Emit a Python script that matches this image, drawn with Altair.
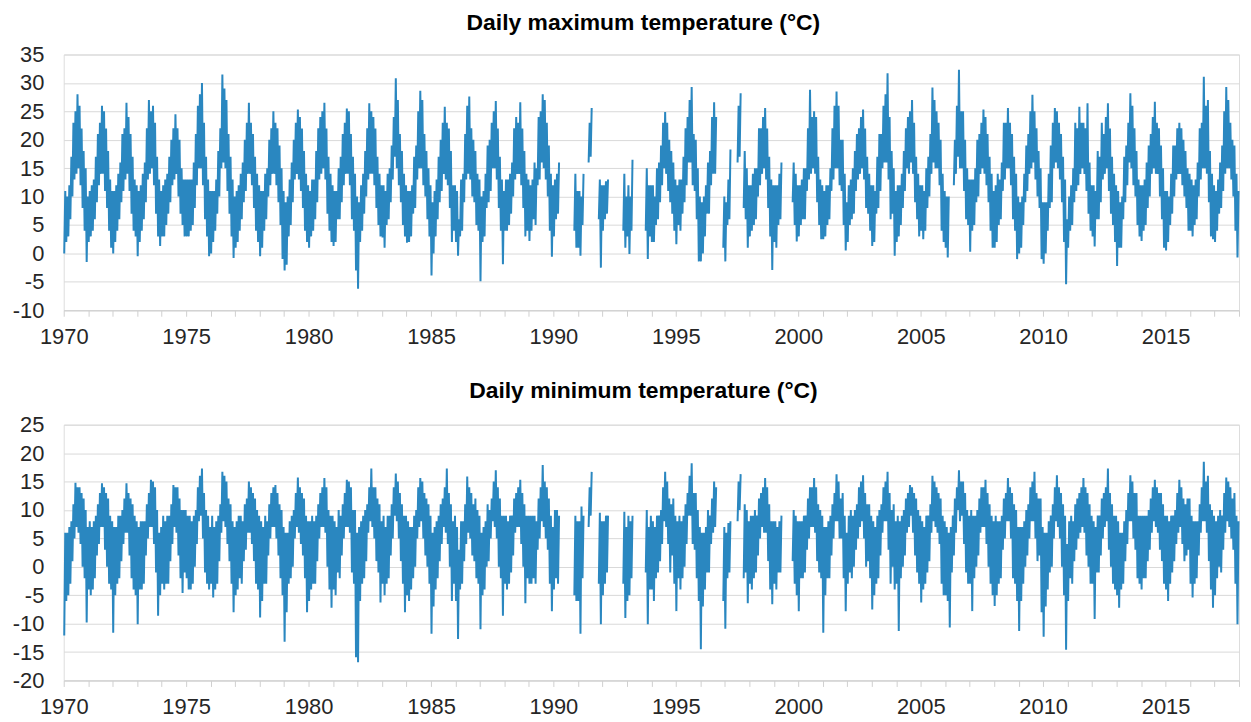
import altair as alt
import pandas as pd

N = None
FIRST_YEAR = 1970

# Monthly envelope (lowest / highest daily value of each month)
# Daily maximum temperature
TMAX_LO = [
    0, 2, 3, 6, 10, 13, 14, 15, 12, 8, 4, -1.5,      # 1970
    2, 3, 4, 6, 9, 12, 14, 14, 11, 8, 4, 1,          # 1971
    0, 2, 4, 6, 9, 11, 13, 14, 11, 7, 4, 3,          # 1972
    -0.5, 2, 4, 6, 9, 13, 14, 15, 12, 7, 3, 1.3,     # 1973
    3, 3, 5, 7, 9, 12, 13, 14, 10, 7, 5, 3,          # 1974
    3, 3, 4, 5, 8, 12, 15, 15, 12, 6, 3, -0.5,       # 1975
    0, 2, 4, 7, 10, 15, 16, 15, 11, 7, 3, -0.8,      # 1976
    1, 2, 4, 6, 9, 11, 14, 14, 12, 8, 4, 2,          # 1977
    -0.5, 1, 4, 6, 10, 12, 14, 14, 12, 9, 5, -1,     # 1978
    -3, -2, 3, 5, 9, 13, 14, 13, 11, 8, 4, 2,        # 1979
    1, 3, 4, 6, 9, 13, 14, 15, 13, 7, 4, 2,          # 1980
    1.3, 2, 6, 6, 9, 12, 14, 14, 12, 6, 4, -3,       # 1981
    -6.2, 2, 4, 7, 10, 13, 14, 14, 12, 8, 5, 3,      # 1982
    2.8, 1, 5, 6, 9, 13, 17, 15, 12, 9, 5, 3,        # 1983
    1.9, 2, 3, 7, 8, 13, 15, 15, 12, 10, 6, 3,       # 1984
    -3.9, 0, 3, 6, 9, 11, 14, 13, 12, 8, 2, 4,       # 1985
    2, -0.4, 3, 4, 9, 13, 14, 13, 10, 9, 5, 4,       # 1986
    -4.9, 2, 3, 8, 9, 11, 15, 15, 13, 8, 4, -1.9,    # 1987
    4, 4, 5, 7, 10, 13, 14, 14, 12, 8, 3, 4,         # 1988
    2.2, 4, 6, 5, 12, 13, 16, 15, 13, 10, 4, -0.6,   # 1989
    3, 6, 7, N, N, N, N, N, N, N, 4, 1,              # 1990
    1, -0.4, 5, N, N, 16, 17, N, N, N, 6, -2.5,      # 1991
    4, 6, 7, N, N, N, N, N, N, N, 4, 1,              # 1992
    3, -0.1, 4, N, N, N, N, N, N, 4, -1, 3,          # 1993
    2, 2, 5, 6, 9, 12, 15, 14, 11, 9, 7, 4,          # 1994
    1.6, 5, 4, 7, 9, 12, 16, 16, 12, 11, 6, -1.4,    # 1995
    -1.4, 0, 3, 7, 7, 12, 14, 14, N, N, N, 1,        # 1996
    -1.4, 5, 6, N, N, N, 16, 17, N, 8, 6, 1,         # 1997
    3, 4, 5, 6, 10, 12, 14, 15, 13, 8, 3, -2.9,      # 1998
    2, 1, 5, 6, N, N, N, N, N, 9, 5, 2.1,            # 1999
    3, 5, 6, 6, 11, 13, 14, 15, 14, 9, 5, 2.5,       # 2000
    2.5, 3, 5, 6, 11, 13, 15, 15, 12, 11, 5, 0.5,    # 2001
    2, 5, 6, 7, 11, 13, 14, 15, 13, 8, 7, 4,         # 2002
    1.3, 2, 7, 8, 11, 15, 16, 16, 13, 6, 7, -0.4,    # 2003
    2, 3, 5, 8, 11, 15, 14, 16, 14, 9, 6, 3,         # 2004
    4, 2.5, 4, 8, 10, 14, 16, 15, 15, 12, 4, 2,      # 2005
    1, -0.7, N, N, 12, 14, 17, 15, 15, 11, 6, 5,     # 2006
    0.3, 4, 5, 9, 10, 14, 15, 14, 12, 9, 4, 1,       # 2007
    1, 2, 5, 6, 11, 13, 15, 15, 12, 6, 4, -1,        # 2008
    0, 1, 5, 9, 11, 14, 15, 16, 13, 10, 8, -1,       # 2009
    -1.8, 0, 4, 8, 9, 15, 16, 15, 13, 9, 2, -5.4,    # 2010
    1, 4, 5, 9, 11, 12, 14, 15, 14, 11, 7, 4,        # 2011
    3, 1.2, 6, 6, 9, 13, 14, 15, 11, 7, 5, 2,        # 2012
    -2.2, 1, 1, 6, 9, 12, 16, 15, 12, 10, 5, 3,      # 2013
    2.2, 4, 5, 8, 10, 14, 15, 14, 14, 10, 6, 1,      # 2014
    0.5, 2, 5, 7, 10, 13, 14, 14, 12, 10, 8, 4,      # 2015
    4, 3, 5, 6, 10, 13, 15, 15, 14, 9, 3, 2.5,       # 2016
    2, 4, 7, 8, 11, 14, 15, 15, 13, 10, 4, -0.7,     # 2017
]
TMAX_HI = [
    11, 10, 12, 17, 23, 25, 28, 26, 22, 18, 15, 10,      # 1970
    11, 12, 13, 17, 21, 23, 26, 25, 22, 18, 13, 11,      # 1971
    11, 12, 14, 16, 21, 22, 26.5, 24, 21, 17, 13, 12,    # 1972
    11, 12, 14, 16, 22, 27, 25, 26, 23, 17, 13, 11,      # 1973
    12, 13, 14, 17, 20, 22, 24.5, 22, 20, 15, 13, 13,    # 1974
    13, 13, 13, 16, 21, 26, 28, 30, 23, 17, 13, 11,      # 1975
    11, 11, 13, 18, 22, 31.5, 29, 27, 21, 17, 13, 10,    # 1976
    11, 12, 14, 16, 20, 23, 26.5, 23, 21, 17, 14, 12,    # 1977
    11, 11, 14, 15, 20, 22, 25, 23, 22, 19, 15, 11,      # 1978
    9, 10, 13, 16, 20, 23, 25.3, 24, 22, 18, 14, 12,     # 1979
    11, 13, 13, 18, 22, 24, 25, 26.5, 22, 17, 14, 12,    # 1980
    11, 11, 15, 17, 21, 23, 25.5, 25, 21, 17, 14, 10,    # 1981
    9, 12, 14, 18, 22, 26.4, 25, 24, 22, 17, 14, 12,     # 1982
    12, 11, 14, 15, 19, 24, 30.8, 27, 21, 18, 14, 12,    # 1983
    11, 11, 12, 17, 19, 25, 28.6, 27, 21, 18, 15, 12,    # 1984
    9, 11, 13, 17, 20, 23, 25.8, 23, 22, 18, 12, 12,     # 1985
    11, 6, 13, 14, 21, 26, 27.6, 22, 20, 18, 14, 13,     # 1986
    10, 11, 14, 19, 20, 23, 25, 26.8, 22, 17, 13, 11,    # 1987
    13, 13, 14, 16, 22, 24, 23, 26.6, 22, 18, 14, 13,    # 1988
    12, 13, 16, 15, 24, 25, 28, 27, 23, 19, 14, 12,      # 1989
    13, 14, 16, N, N, N, N, N, N, N, 14, 11,             # 1990
    11, 10, 14, N, N, 23, 25.6, N, N, N, 13, 12,         # 1991
    12, 12.7, 13, N, N, N, N, N, N, N, 14, 10,           # 1992
    12, 10, 16.5, N, N, N, N, N, N, 15, 12, 12,          # 1993
    12, 10, 15, 16, 19, 23, 24.9, 23, 20, 18, 16, 13,    # 1994
    12, 13, 13, 17, 22, 24, 27, 29.3, 21, 20, 15, 10,    # 1995
    9, 10, 12, 16, 18, 24, 26.6, 24, N, N, N, 10,        # 1996
    9, 13, 18.3, N, N, N, 26, 28.2, N, 18, 15, 12,       # 1997
    12, 14, 15, 15, 22, 22, 24, 25.6, 22, 17, 13, 12,    # 1998
    12, 12, 14, 16, N, N, N, N, N, 16, 14, 12,           # 1999
    12, 13, 15, 15, 22, 28.8, 24, 25, 24, 17, 13, 12,    # 2000
    11, 12, 12, 15, 22, 26, 28.5, 26, 20, 20, 14, 9,     # 2001
    12, 13, 15, 18, 21, 22, 24, 25.3, 22, 17, 14, 12,    # 2002
    12, 11, 17, 21, 21, 26, 28, 31.7, 24, 18, 15, 11,    # 2003
    12, 12, 14, 18, 22, 24, 25, 27, 23, 17, 14, 12,      # 2004
    12, 11, 15, 17, 21, 29.2, 27, 25, 23, 20, 14, 11,    # 2005
    10, 10, N, N, 20, 26, 32.3, 25, 25, 20, 15, 13,      # 2006
    13, 13, 15, 20, 21, 23, 25.3, 24, 21, 17, 14, 11,    # 2007
    12, 14, 13, 16, 23, 23, 25.6, 23, 21, 17, 14, 10,    # 2008
    9, 10, 14, 19, 21, 25, 27.9, 25, 22, 18, 15, 9,      # 2009
    9, 9, 14, 19, 23, 25.6, 25, 23, 21, 17, 13, 6,       # 2010
    10, 12, 15, 23, 22, 25.8, 23, 23, 22, 26.4, 16, 12,  # 2011
    12, 11, 18, 17, 23, 21, 24, 26.4, 22, 17, 14, 12,    # 2012
    11, 9, 10, 17, 19, 23, 28.2, 26, 22, 18, 13, 12,     # 2013
    12, 13, 16, 19, 21, 24, 26.7, 23, 22, 19, 15, 11,    # 2014
    11, 10, 14, 19, 19, 22, 23, 22, 20, 18, 15, 14,      # 2015
    13, 12, 13, 16, 22, 23, 31.1, 26, 27, 18, 14, 12,    # 2016
    11, 13, 16, 19, 25, 29.3, 27, 23, 20, 19, 14, 11,    # 2017
]

# Daily minimum temperature
TMIN_LO = [
    -12.1, -6, -5, -3, 1, 5, 7, 6, 4, 0, -2, -9.8,   # 1970
    -4, -5, -4, -2, 2, 4, 7, 7, 3, 0, -3, -4,        # 1971
    -11.6, -5, -3, -2, 1, 4, 6, 6, 2, -2, -4, -5,    # 1972
    -10.1, -4, -4, -3, 2, 5, 7, 7, 4, -1, -8.6, -5,  # 1973
    -3, -4, -3, -3, 1, 4, 7, 6, 2, -2, -4.6, -1,     # 1974
    -2, -4, -4, -3, 0, 4, 8, 9, 5, -1, -3, -4,       # 1975
    -3, -5.4, -4, -3, 1, 6, 8, 7, 4, 1, -3, -8,      # 1976
    -5, -4, -2, -3, 1, 3, 6, 6, 4, 1, -3, -4,        # 1977
    -8.9, -6, -3, -3, 2, 5, 7, 7, 5, 2, -2, -5,      # 1978
    -13.2, -8, -3, -2, 0, 5, 7, 6, 4, 2, -2, -8,     # 1979
    -6, -4, -3, -3, 1, 5, 7, 7, 6, 0, -4, -7.2,      # 1980
    -4, -5, -1, -2, 2, 5, 7, 7, 6, -1, -3, -15.9,    # 1981
    -16.8, -6, -3, -2, 1, 6, 8, 7, 5, 1, -1, -6.3,   # 1982
    -3, -5, -3, -2, 2, 5, 9, 8, 5, 1, -3, -8,        # 1983
    -5, -6, -4, -2, 0, 5, 7, 8, 5, 2, 0, -3,         # 1984
    -11.8, -7, -4, -2, 1, 4, 7, 6, 4, 0, -6, -3,     # 1985
    -6, -12.7, -4, -3, 1, 4, 6, 5, 2, 1, -2, -3,     # 1986
    -11, -5, -4, 0, 1, 5, 8, 7, 5, 0, -2, -8.6,      # 1987
    -3, -4, -3, -1, 2, 6, 7, 7, 4, 0, -6.4, -2,      # 1988
    -3, -3, -2, -3, 3, 5, 8, 7, 5, 3, -3, -7.8,      # 1989
    -4, -2, -3, N, N, N, N, N, N, N, -5, -6,         # 1990
    -6, -11.8, -2, N, N, 7, 9, N, N, N, -3, -10.1,   # 1991
    -5, -3, -1, N, N, N, N, N, N, N, -3, -9,         # 1992
    -6, -5, -2, N, N, N, N, N, N, -1, -10.1, -4,     # 1993
    -4, -6, -2, -1, 1, 4, 8, 7, 4, -1, 2, -3,        # 1994
    -7.8, -2, -4, -2, 0, 4, 9, 9, 4, 3, -2, -6,      # 1995
    -14.5, -7, -4, -1, -1, 4, 6, 7, N, N, N, -6,     # 1996
    -10.9, -2, -1, N, N, N, 8, 10, N, -2, -1, -6.4,  # 1997
    -3, -4, -2, -1, 2, 5, 7, 6, 6, 1, -4, -6.6,      # 1998
    -3, -4, -1, -1, N, N, N, N, N, 1, -3, -5,        # 1999
    -7.8, -2, -2, -1, 3, 5, 7, 7, 6, 1, -1, -2,      # 2000
    -11.6, -5, -2, -2, 2, 5, 8, 8, 5, 5, -2, -7.8,   # 2001
    -3, -1, -2, 0, 3, 5, 7, 8, 5, 0, 1, -2,          # 2002
    -7.5, -5, -3, -2, 2, 6, 8, 8, 3, -3, 0, -4,      # 2003
    -3, -11.3, -2, 0, 2, 6, 7, 9, 6, 2, -1, -3,      # 2004
    -6.3, -4, -3, -1, 1, 6, 8, 7, 6, 4, -3, -5,      # 2005
    -5, -6, -10.7, -1, 2, 6, 10, 8, 9, 4, -1, -3,    # 2006
    -3, -7.8, -2, 0, 2, 6, 7, 7, 4, 0, -3, -5,       # 2007
    -6.9, -5, -3, -2, 3, 5, 8, 8, 5, -2, -3, -6,     # 2008
    -11.3, -6, -3, 0, 2, 5, 8, 8, 5, 1, 2, -8,       # 2009
    -12.3, -7, -4, -1, 0, 5, 8, 7, 5, 0, -5, -14.6,  # 2010
    -6, -2, -3, 1, 3, 5, 6, 7, 6, 2, 0, -3,          # 2011
    -3, -9.2, -1, -1, 2, 5, 7, 8, 3, 0, -3, -4,      # 2012
    -5, -7.2, -4, -3, 1, 4, 8, 8, 5, 3, -2, -3,      # 2013
    -4, -2, -2, 1, 3, 6, 8, 7, 6, 3, 1, -3,          # 2014
    -4, -6, -3, -1, 1, 4, 6, 7, 4, 1, 2, 3,          # 2015
    -3, -5.4, -3, -2, 2, 6, 8, 8, 6, 1, -4, -7.2,    # 2016
    -5, -2, 0, -1, 3, 6, 8, 7, 5, 3, -3, -10.1,      # 2017
]
TMIN_HI = [
    6, 6, 7, 8, 11, 14.8, 14, 14, 13, 12, 10, 7,     # 1970
    8, 7, 8, 9, 11, 13, 14.7, 14, 13, 12, 9, 8,      # 1971
    7, 7, 9, 9, 10, 12, 14.7, 13, 12, 11, 9, 8,      # 1972
    7, 8, 8, 8, 11, 13, 15.3, 15, 14, 10, 6, 7,      # 1973
    9, 8, 9, 9, 11, 14.4, 14, 14, 12, 10, 10, 10,    # 1974
    9, 9, 8, 9, 10, 14, 16, 17.3, 13, 10, 9, 7,      # 1975
    9, 7, 8, 9, 11, 16.7, 16, 15, 12, 11, 8, 7,      # 1976
    8, 9, 9, 8, 11, 12, 15, 14, 13, 12, 10, 9,       # 1977
    8, 7, 9, 8, 11, 13, 14, 14.4, 13, 11, 10, 7,     # 1978
    6, 6, 8, 9, 10, 13, 15.7, 14, 13, 12, 9, 8,      # 1979
    8, 9, 8, 9, 11, 13, 14, 15.6, 14, 10, 9, 9,      # 1980
    8, 7, 10, 9, 11, 13, 15.3, 15, 14, 10, 10, 6,    # 1981
    7, 8, 9, 10, 11, 14, 17.3, 14, 14, 12, 11, 8,    # 1982
    9, 7, 9, 9, 11, 14, 16.4, 15, 13, 11, 9, 9,      # 1983
    8, 7, 7, 9, 10, 14, 15.6, 15, 13, 12, 11, 9,     # 1984
    6, 7, 8, 9, 11, 12, 14, 17.3, 13, 11, 8, 9,      # 1985
    7, 3, 8, 8, 11, 15.9, 14, 13, 11, 12, 10, 9,     # 1986
    6, 7, 8, 11, 10, 12, 15, 17, 14, 12, 9, 9,       # 1987
    9, 8, 9, 9, 12, 13, 14, 15.3, 13, 11, 9, 9,      # 1988
    9, 9, 9, 8, 12, 14, 17.9, 15, 14, 12, 9, 7,      # 1989
    10, 10, 9, N, N, N, N, N, N, N, 9, 8,            # 1990
    8, 10.6, 9, N, N, 14, 16.7, N, N, N, 9.5, 8,     # 1991
    8, 9, 9, N, N, N, N, N, N, N, 9.7, 7,            # 1992
    9, 8, 9, N, N, N, N, N, N, 10, 7, 9,             # 1993
    8, 7, 9, 9, 10, 14, 16.7, 15, 12, 11, 12, 9,     # 1994
    8, 9, 8, 9, 11, 13, 16, 18.2, 13, 13, 10, 7,     # 1995
    6, 6, 7, 10, 9, 12, 15, 14, N, N, N, 7,          # 1996
    6, 7.7, 8, N, N, N, 15, 16.3, N, 11, 10, 8,      # 1997
    9, 9, 10, 9, 12, 13, 14, 15.6, 14, 11, 8, 8,     # 1998
    8, 7, 8, 9, N, N, N, N, N, 10, 9, 8,             # 1999
    8, 8, 9, 9, 12, 14, 14, 15.6, 14, 11, 10, 9,     # 2000
    7, 7, 8, 9, 11, 13, 16.3, 15, 12, 13, 9, 6,      # 2001
    9, 10, 9, 10, 11, 14, 15, 16.1, 13, 11, 11, 9,   # 2002
    8, 7, 9, 10, 11, 14, 15, 16.7, 13, 10, 11, 8,    # 2003
    9, 8, 9, 10, 12, 13, 14.4, 14, 13, 12, 10, 9,    # 2004
    8, 7, 9, 9, 11, 16, 15, 14, 13, 12, 9, 8,        # 2005
    7, 6, 7, 9, 12, 14, 17, 15, 15, 13, 10, 9,       # 2006
    10, 9, 9, 10, 12, 14, 14, 15.3, 13, 11, 9, 8,    # 2007
    9, 8, 8, 9, 12, 13, 15.6, 14, 13, 11, 10, 7,     # 2008
    7, 7, 8, 10, 11, 14, 15, 16.7, 13, 12, 12, 7,    # 2009
    6, 6, 8, 9, 11, 14, 16.1, 14, 13, 11, 9, 4,      # 2010
    8, 9, 8, 11, 12, 13, 14, 15.6, 14, 13, 11, 9,    # 2011
    8, 7, 9, 9, 12, 13, 14, 17.3, 13, 11, 9, 9,      # 2012
    8, 6, 6, 8, 10, 13, 16.1, 15, 13, 13, 9, 9,      # 2013
    9, 9, 9, 10, 12, 14, 15.3, 14, 13, 13, 11, 9,    # 2014
    9, 8, 9, 9, 10, 13, 15.3, 14, 12, 11, 12, 12,    # 2015
    9, 8, 8, 8, 11, 14, 18.5, 15, 16, 11, 10, 9,     # 2016
    8, 9, 10, 9, 13, 15.7, 15, 14, 12, 13, 9, 8,     # 2017
]

X_TICKS = list(range(1970, 2019))
Y_TICKS_MAX = list(range(-10, 36, 5))
Y_TICKS_MIN = list(range(-20, 26, 5))
TITLE_MAX = "Daily maximum temperature (°C)"
TITLE_MIN = "Daily minimum temperature (°C)"

LINE_COLOR = "#2a87c0"
FONT = "Liberation Sans"


def build_frame(lo, hi):
    rows = []
    seg = 0
    gap = False
    for i, (a, b) in enumerate(zip(lo, hi)):
        if a is None or b is None:
            if not gap:
                seg += 1
            gap = True
            continue
        gap = False
        year = FIRST_YEAR + i // 12
        m = i % 12
        rows.append({"t": year + (m + 0.25) / 12, "v": a, "seg": seg})
        rows.append({"t": year + (m + 0.75) / 12, "v": b, "seg": seg})
    return pd.DataFrame(rows)


def panel(df, title, yticks, title_offset):
    x_axis = alt.Axis(
        values=X_TICKS, format="d",
        labelExpr="datum.value % 5 === 0 ? datum.label : ''",
        labelFontSize=22, labelFont=FONT, labelColor="#262626",
        labelPadding=10, labelFlush=False, labelOverlap=False,
        tickColor="#d0d0d0", tickSize=6, domainColor="#d0d0d0",
        grid=False, title=None,
    )
    y_axis = alt.Axis(
        values=yticks,
        labelExpr="datum.value < 0 ? '-' + abs(datum.value) : '' + datum.value",
        labelFontSize=22, labelFont=FONT, labelColor="#262626",
        labelPadding=20, domain=False, ticks=False, tickSize=0,
        grid=True, gridColor="#d9d9d9", gridWidth=1, title=None,
        minExtent=55, maxExtent=55,
    )
    return alt.Chart(df).mark_line(
        color=LINE_COLOR, strokeWidth=2, interpolate="linear", strokeJoin="miter"
    ).encode(
        x=alt.X("t:Q", scale=alt.Scale(domain=[1970, 2018], nice=False, zero=False), axis=x_axis),
        y=alt.Y("v:Q", scale=alt.Scale(domain=[yticks[0], yticks[-1]], nice=False, zero=False), axis=y_axis),
        detail="seg:N",
    ).properties(
        width=1181, height=257,
        title=alt.TitleParams(
            text=title, fontSize=23, fontWeight="bold", font=FONT, color="#000000",
            anchor="middle", offset=title_offset, dx=-8,
        ),
    )


top = panel(build_frame(TMAX_LO, TMAX_HI), TITLE_MAX, Y_TICKS_MAX, 9)
bottom = panel(build_frame(TMIN_LO, TMIN_HI), TITLE_MIN, Y_TICKS_MIN, 11)

chart = alt.vconcat(top, bottom, spacing=31).properties(
    padding={"top": 1, "left": 0, "right": 0, "bottom": 0}
).configure_view(stroke=None).configure(background="#ffffff")

chart.save("out.html", embed_options={"renderer": "svg", "actions": False})
